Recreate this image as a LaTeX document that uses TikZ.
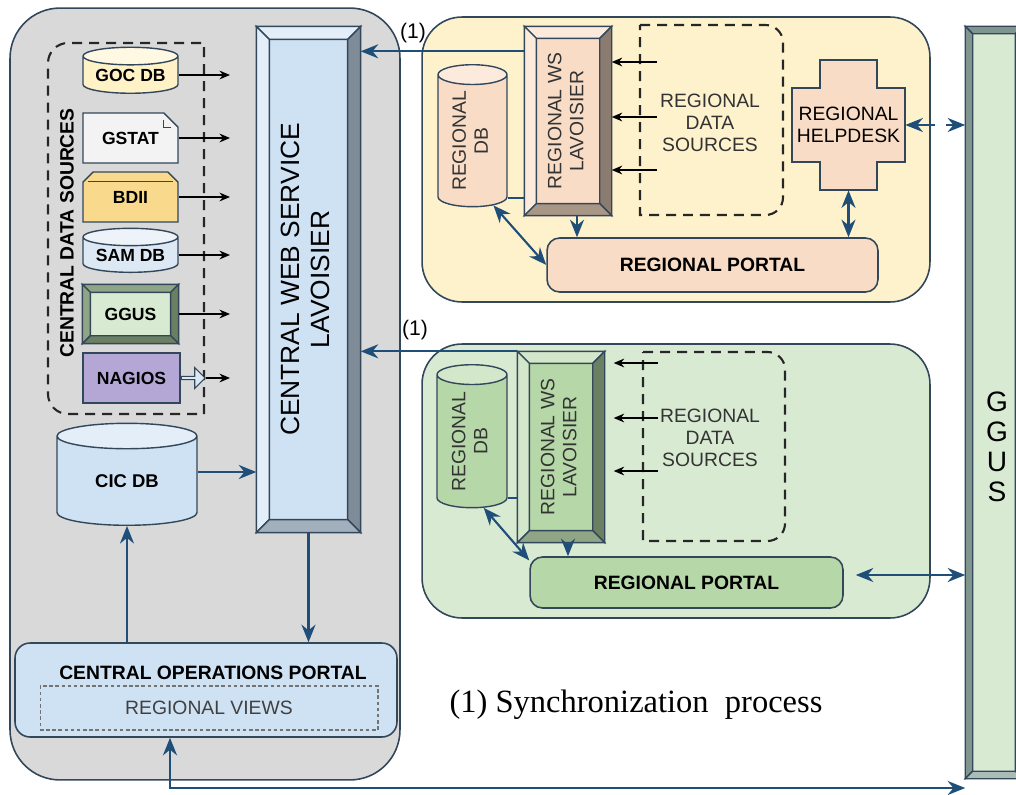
\documentclass[tikz,border=0pt]{standalone}
\usepackage{fontspec}
\setmainfont{Liberation Sans}
\newfontfamily\serifcap{Liberation Serif}
\usepackage{graphicx}
\usetikzlibrary{positioning, arrows.meta, shapes.geometric, shapes.misc, shapes.arrows}

\definecolor{linec}{HTML}{33475B}
\definecolor{navy}{HTML}{1F4E79}
\definecolor{graybox}{HTML}{D9D9D9}
\definecolor{paleblue}{HTML}{CFE2F3}
\definecolor{lightblue}{HTML}{E3EEF9}
\definecolor{bluedark}{HTML}{7F8B97}
\definecolor{bluemid}{HTML}{A2B0BE}
\definecolor{paleyellow}{HTML}{FEF2CC}
\definecolor{peach}{HTML}{F8DCC6}
\definecolor{peachlight}{HTML}{FCEBDD}
\definecolor{peachdark}{HTML}{8A7C71}
\definecolor{peachmid}{HTML}{A99786}
\definecolor{palegreen}{HTML}{D9EAD3}
\definecolor{midgreen}{HTML}{B6D7A8}
\definecolor{greenlight}{HTML}{D3E7CA}
\definecolor{greendark}{HTML}{6B7F63}
\definecolor{greenmid}{HTML}{8FA586}
\definecolor{gocfill}{HTML}{FFF2C6}
\definecolor{gstatfill}{HTML}{F3F3F3}
\definecolor{bdiifill}{HTML}{F9D98C}
\definecolor{samfill}{HTML}{DDE8F5}
\definecolor{nagiosfill}{HTML}{B4A7D6}
\definecolor{ggusdark}{HTML}{7F958E}
\definecolor{gguslight}{HTML}{A9BCB5}

\tikzset{
    container/.style={draw=linec, line width=0.9pt, rounded corners=0.8cm, inner sep=0pt},
    item/.style={draw=linec, line width=0.8pt, inner sep=0pt, font=\bfseries\fontsize{10}{11}\selectfont},
    db/.style={cylinder, shape border rotate=90, draw=linec, line width=0.8pt, inner sep=0pt, cylinder uses custom fill},
    bevel line/.style={draw=linec, line width=0.8pt},
    group line/.style={draw=black!85, line width=1.2pt, dash pattern=on 0.2cm off 0.14cm},
    link/.style={draw=navy, line width=1.2pt},
    feed/.style={draw=black, line width=0.8pt, -{Stealth[length=6pt, width=5pt]}},
    regtext/.style={font=\fontsize{11}{12.5}\selectfont, align=center, text=black!80, inner sep=0pt},
    portal/.style={draw=linec, line width=0.9pt, rounded corners=0.25cm, inner sep=0pt, font=\bfseries\fontsize{11}{13}\selectfont}
}

\begin{document}
\begin{tikzpicture}[x=0.02cm, y=-0.02cm, >={Stealth[length=10pt, width=8pt]}]

    \useasboundingbox (0,0) rectangle (1016,794);

    % Containers
    \node[container, rounded corners=1cm, fill=graybox, minimum width=7.8cm, minimum height=15.44cm] (central) at (205,394) {};
    \node[container, fill=paleyellow, minimum width=10.16cm, minimum height=5.7cm] (north) at (676,159.5) {};
    \node[container, fill=palegreen, minimum width=10.16cm, minimum height=5.48cm] (south) at (676,481) {};
    \node[draw=linec, line width=0.9pt, fill=palegreen, inner sep=0pt, minimum width=1.12cm, minimum height=15.02cm] (ggusbar) at (994,402.5) {};

    % Central data sources
    \draw[group line] (204,414) -- (204,43) [rounded corners=0.4cm] -- (48,43) -- (48,414) [sharp corners] -- (204,414);
    \node[rotate=90, font=\bfseries\fontsize{11}{13}\selectfont] (cds-label) at (67,233) {CENTRAL DATA SOURCES};

    \node[db, item, minimum width=1.9cm, minimum height=0.92cm, shape aspect=0.25, cylinder body fill=gocfill, cylinder end fill=gocfill!50!white] (gocdb) at (130.5,75) {GOC DB};
    \node[item, chamfered rectangle, chamfered rectangle corners=north east, chamfered rectangle xsep=0.16cm, chamfered rectangle ysep=0.16cm, fill=gstatfill, minimum width=1.9cm, minimum height=1cm] (gstat) at (130.5,138) {GSTAT};
    \node[item, chamfered rectangle, chamfered rectangle corners={north west, north east}, chamfered rectangle xsep=0.1cm, chamfered rectangle ysep=0.1cm, fill=bdiifill, minimum width=1.9cm, minimum height=1cm] (bdii) at (130.5,197) {BDII};
    \node[db, item, minimum width=1.9cm, minimum height=0.88cm, shape aspect=0.25, cylinder body fill=samfill, cylinder end fill=samfill!50!white] (samdb) at (130.5,255) {SAM DB};
    \node[item, fill=palegreen, minimum width=1.9cm, minimum height=1.16cm] (ggus) at (130.5,314) {GGUS};
    \node[item, fill=nagiosfill, minimum width=1.94cm, minimum height=1cm] (nagios) at (131.5,378) {NAGIOS};
    \node[single arrow, draw=linec, line width=0.6pt, fill=samfill, minimum height=0.48cm, minimum width=0.42cm, single arrow head extend=0.06cm, inner sep=0pt, anchor=west] (nagarrow) at (nagios.east) {};

    % Central web service
    \node[draw=linec, line width=0.8pt, fill=paleblue, inner sep=0pt, minimum width=2.06cm, minimum height=10.1cm, font=\fontsize{15}{17}\selectfont] (cws) at (308.5,279.5)
        {\rotatebox{90}{\begin{tabular}{@{}c@{}}CENTRAL WEB SERVICE\\LAVOISIER\end{tabular}}};

    \node[db, minimum width=2.8cm, minimum height=2.04cm, shape aspect=0.4, cylinder body fill=paleblue, cylinder end fill=lightblue, font=\bfseries\fontsize{10.5}{12}\selectfont] (cicdb) at (127,481) {CIC DB};

    % Central operations portal
    \node[draw=linec, line width=0.9pt, rounded corners=0.3cm, fill=paleblue, minimum width=7.64cm, minimum height=1.88cm] (cop) at (206,690) {};
    \node[font=\bfseries\fontsize{11}{13}\selectfont] (cop-title) at (213,673) {CENTRAL OPERATIONS PORTAL};
    \node[draw=black!55, line width=0.6pt, dash pattern=on 2pt off 1.5pt, minimum width=6.76cm, minimum height=0.88cm, font=\fontsize{11}{13}\selectfont, text=black!75] (views) at (209,708) {REGIONAL VIEWS};

    % Regional (yellow)
    \node[db, minimum width=1.38cm, minimum height=2.84cm, shape aspect=0.45, cylinder body fill=peach, cylinder end fill=peachlight, regtext] (rdb1) at (472.5,141)
        {\rotatebox{90}{\begin{tabular}{@{}c@{}}REGIONAL\\DB\end{tabular}}};
    \node[draw=linec, line width=0.8pt, fill=peach, minimum width=1.72cm, minimum height=3.76cm, regtext] (rws1) at (568,121)
        {\rotatebox{90}{\begin{tabular}{@{}c@{}}REGIONAL WS\\LAVOISIER\end{tabular}}};
    \draw[group line] (640,25) [rounded corners=0.35cm] -- (783,25) -- (783,215) [sharp corners] -- (640,215) -- cycle;
    \node[regtext] (rds1) at (710,123) {REGIONAL\\DATA\\SOURCES};
    \filldraw[draw=linec, line width=0.8pt, fill=peach] (820,60) -- (877,60) -- (877,88) -- (905,88) -- (905,162) -- (877,162)
        -- (877,190) -- (820,190) -- (820,162) -- (792,162) -- (792,88) -- (820,88) -- cycle;
    \node[regtext, text=black, minimum width=2.26cm, minimum height=2.6cm] (help1) at (848.5,125) {REGIONAL\\HELPDESK};
    \node[portal, fill=peach, minimum width=6.62cm, minimum height=1.08cm] (rport1) at (712.5,265) {REGIONAL PORTAL};
    \node[font=\fontsize{12}{14}\selectfont] (sync1-label) at (413,33) {(1)};

    % Regional (green)
    \node[db, minimum width=1.4cm, minimum height=2.86cm, shape aspect=0.45, cylinder body fill=midgreen, cylinder end fill=greenlight, regtext] (rdb2) at (472,441.5)
        {\rotatebox{90}{\begin{tabular}{@{}c@{}}REGIONAL\\DB\end{tabular}}};
    \node[draw=linec, line width=0.8pt, fill=midgreen, minimum width=1.72cm, minimum height=3.8cm, regtext] (rws2) at (561,447)
        {\rotatebox{90}{\begin{tabular}{@{}c@{}}REGIONAL WS\\LAVOISIER\end{tabular}}};
    \draw[group line] (643,352) [rounded corners=0.35cm] -- (785,352) -- (785,541) [sharp corners] -- (643,541) -- cycle;
    \node[regtext] (rds2) at (710,438) {REGIONAL\\DATA\\SOURCES};
    \node[portal, fill=midgreen, minimum width=6.26cm, minimum height=1.02cm] (rport2) at (686.5,582.5) {REGIONAL PORTAL};
    \node[font=\fontsize{12}{14}\selectfont] (sync2-label) at (415,330) {(1)};

    % Bevels
    \foreach \nm/\dep/\ctop/\cright/\cbottom in {ggusbar/0.15cm/ggusdark/ggusdark/gguslight, ggus/0.16cm/greenmid/greendark/greendark,
            cws/0.26cm/lightblue/bluedark/bluemid, rws1/0.24cm/peachlight/peachdark/peachmid, rws2/0.24cm/greenlight/greendark/greenmid} {
        \coordinate (\nm-a) at ([xshift=\dep, yshift=-\dep]\nm.north west);
        \coordinate (\nm-b) at ([xshift=-\dep, yshift=-\dep]\nm.north east);
        \coordinate (\nm-c) at ([xshift=-\dep, yshift=\dep]\nm.south east);
        \coordinate (\nm-d) at ([xshift=\dep, yshift=\dep]\nm.south west);
        \filldraw[bevel line, fill=\ctop] (\nm.north west) -- (\nm.north east) -- (\nm-b) -- (\nm-a) -- cycle;
        \filldraw[bevel line, fill=\ctop] (\nm.north west) -- (\nm-a) -- (\nm-d) -- (\nm.south west) -- cycle;
        \filldraw[bevel line, fill=\cright] (\nm.north east) -- (\nm-b) -- (\nm-c) -- (\nm.south east) -- cycle;
        \filldraw[bevel line, fill=\cbottom] (\nm.south west) -- (\nm-d) -- (\nm-c) -- (\nm.south east) -- cycle;
    }
    \draw[bevel line] ([xshift=-0.16cm]gstat.north east) -- ++(0pt,-0.16cm) -- ++(0.16cm,0pt);
    \draw[bevel line] ([yshift=-0.1cm]bdii.north west) -- ([yshift=-0.1cm]bdii.north east);
    \node[font=\fontsize{16}{17}\selectfont, align=center] (ggus-text) at (997,447) {G\\G\\U\\S};

    % Connectors: central
    \coordinate (cds-out) at (230,0);
    \foreach \src in {gocdb, gstat, bdii, samdb, ggus}
        \draw[feed] (\src.east) -- (\src.east -| cds-out);
    \draw[feed] (nagarrow.east) -- (nagarrow.east -| cds-out);
    \coordinate (cic-out) at ([yshift=0.18cm]cicdb.east);
    \draw[link, ->] (cic-out) -- (cic-out -| cws.west);
    \draw[link, ->] (cicdb.south |- cop.north) -- (cicdb.south);
    \draw[link, ->] (cws.south) -- (cws.south |- cop.north);
    \coordinate (bus) at (170,788);
    \draw[link, <->] (cop.south -| bus) -- (bus) -- (bus -| ggusbar.west);

    % Connectors: yellow region
    \foreach \y [count=\i] in {62,117,170} {
        \coordinate (rin1-\i) at (657,\y);
        \draw[feed] (rin1-\i) -- (rin1-\i -| rws1.east);
    }
    \coordinate (rws1-down) at ([xshift=0.18cm]rws1.south);
    \draw[link, ->] (rws1-down) -- (rws1-down |- rport1.north);
    \draw[link, <->] (rdb1.-72) -- (rport1.west);
    \draw[link, <->] (help1.south) -- (help1.south |- rport1.north);
    \draw[link, <->] (help1.east) -- (help1.east -| ggusbar.west);
    \fill[white] (935,118) rectangle (946,128);
    \coordinate (rdb1-tie) at ([yshift=-1.54cm]rws1.west);
    \draw[link] (rdb1-tie) -- (rdb1-tie -| rdb1.east);
    \coordinate (sync1) at ([yshift=-0.5cm]rws1.north west);
    \draw[link, ->] (sync1) -- (sync1 -| cws.east);

    % Connectors: green region
    \foreach \y [count=\i] in {363,418,471} {
        \coordinate (rin2-\i) at (658,\y);
        \draw[feed, shorten >=0.18cm] (rin2-\i) -- (rin2-\i -| rws2.east);
    }
    \coordinate (rws2-down) at ([xshift=0.14cm]rws2.south);
    \draw[link, ->] (rws2-down) -- (rws2-down |- rport2.north);
    \draw[link, <->] (rdb2.-80) -- (rport2.172);
    \coordinate (rdb2-tie) at ([yshift=-1.02cm]rws2.west);
    \draw[link] (rdb2-tie) -- (rdb2-tie -| rdb2.east);
    \draw[link, ->] (rws2.north west) -- (rws2.north west -| cws.east);
    \coordinate (rport2-out) at ([yshift=0.15cm]rport2.east);
    \draw[link, <->, shorten <=0.24cm] (rport2-out) -- (rport2-out -| ggusbar.west);

    % Legend
    \node[font=\serifcap\fontsize{18.5}{21}\selectfont] (caption) at (636,705) {(1) Synchronization~~process};

\end{tikzpicture}
\end{document}
